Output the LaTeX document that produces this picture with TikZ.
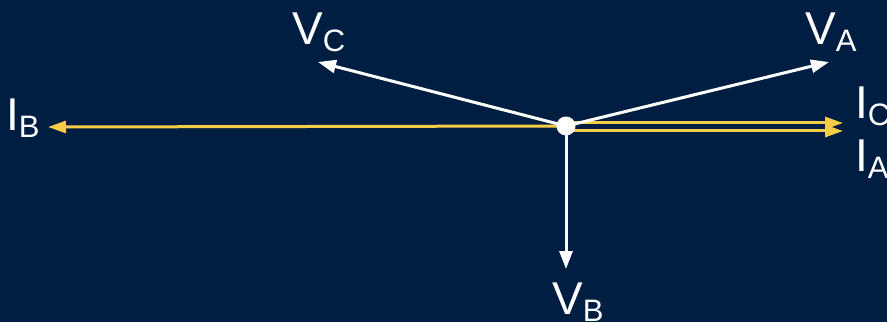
\documentclass[tikz,border=0pt]{standalone}
\usepackage{fontspec}
\setmainfont{Liberation Sans}
\usetikzlibrary{arrows.meta}
\definecolor{navy}{RGB}{0,30,66}
\definecolor{phyellow}{RGB}{245,204,72}
\tikzset{
  varrow/.style={draw=white, line width=3pt, -{Triangle[length=18pt,width=13pt]}},
  iarrow/.style={draw=phyellow, line width=3pt, -{Triangle[length=18pt,width=12pt]}},
  lbl/.style={text=white, inner sep=0pt, anchor=base west, font=\fontsize{46}{50}\selectfont},
}
\newcommand{\subs}[1]{\raisebox{-7pt}{\fontsize{31}{31}\selectfont #1}}
\begin{document}
\begin{tikzpicture}[x=1pt,y=1pt]
\fill[navy] (0,0) rectangle (887,322);
\useasboundingbox (0,0) rectangle (887,322);
\coordinate (c) at (566,196);
\coordinate (ic0) at (566,199);
\coordinate (ia0) at (566,191);
\coordinate (vatip) at (829,260);
\coordinate (vctip) at (318,260);
\coordinate (vbtip) at (566,53);
\coordinate (ibtip) at (48,195);
\coordinate (ictip) at (843,199);
\coordinate (iatip) at (843,191);
\draw[iarrow] (c) -- (ibtip);
\draw[iarrow] (ic0) -- (ictip);
\draw[iarrow] (ia0) -- (iatip);
\draw[varrow] (c) -- (vatip);
\draw[varrow] (c) -- (vctip);
\draw[varrow] (c) -- (vbtip);
\node[circle, fill=white, minimum size=19pt, inner sep=0pt] (o) at (c) {};
\node[lbl] (va) at (805,277) {V\subs{A}};
\node[lbl] (vc) at (292,277) {V\subs{C}};
\node[lbl] (vb) at (552,8) {V\subs{B}};
\node[lbl] (ib) at (6,192) {I\subs{B}};
\node[lbl] (ic) at (855,204) {I\subs{C}};
\node[lbl] (ia) at (855,150) {I\subs{A}};
\end{tikzpicture}
\end{document}
